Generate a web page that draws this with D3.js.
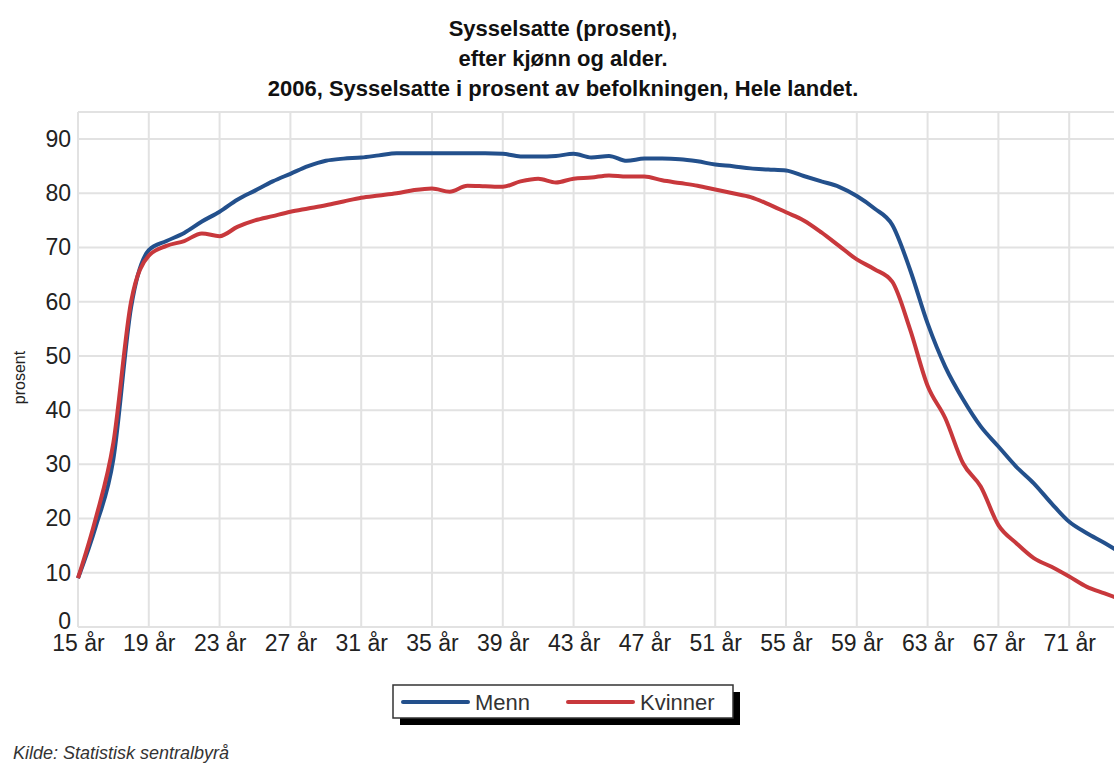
<!DOCTYPE html>
<html>
<head>
<meta charset="utf-8">
<script src="https://cdn.jsdelivr.net/npm/d3@7"></script>
<style>
  body { margin: 0; background: #fff; }
  text { font-family: "Liberation Sans", Arial, sans-serif; }
</style>
</head>
<body>
<div id="chart"></div>
<script>
const ages = d3.range(15, 75);

const menn = [9, 18.5, 31, 59, 69.5, 71.2, 72.7, 74.8, 76.6, 78.8,
    80.5, 82.2, 83.6, 85, 86, 86.4, 86.6, 87, 87.4, 87.4,
    87.4, 87.4, 87.4, 87.4, 87.3, 86.8, 86.8, 86.9, 87.3, 86.6,
    86.9, 86, 86.4, 86.4, 86.3, 85.9, 85.3, 85, 84.6, 84.4,
    84.2, 83.2, 82.2, 81.2, 79.5, 77.2, 74.2, 66, 56, 48,
    42, 37, 33.3, 29.6, 26.5, 22.8, 19.4, 17.3, 15.5, 13.5];

const kvinner = [9, 20, 34, 60, 68.5, 70.3, 71.2, 72.6, 72.1, 73.8,
    75, 75.8, 76.6, 77.2, 77.8, 78.5, 79.2, 79.6, 80, 80.6,
    80.9, 80.3, 81.4, 81.3, 81.2, 82.2, 82.7, 82, 82.7, 82.9,
    83.3, 83.1, 83.1, 82.4, 81.9, 81.4, 80.7, 80, 79.3, 78,
    76.5, 75, 72.8, 70.3, 67.8, 66, 63.7, 55, 44.5, 38.5,
    30.2, 25.9, 18.8, 15.5, 12.7, 11.1, 9.3, 7.4, 6.2, 5];

const series = [
    { name: "Menn", values: menn, color: "#23508c" },
    { name: "Kvinner", values: kvinner, color: "#c8383c" }
];

const yTicks = [0, 10, 20, 30, 40, 50, 60, 70, 80, 90];
const xTicks = [15, 19, 23, 27, 31, 35, 39, 43, 47, 51, 55, 59, 63, 67, 71];

const titleLines = [
    "Sysselsatte (prosent),",
    "efter kjønn og alder.",
    "2006, Sysselsatte i prosent av befolkningen, Hele landet."
];

const W = 1114, H = 765;
const margin = { top: 112, left: 78, bottom: 627 };

const svg = d3.select("#chart")
    .append("svg")
    .attr("width", W)
    .attr("height", H);

const x = d3.scaleLinear()
    .domain([15, 74])
    .range([margin.left, margin.left + 59 * 17.7]);

const y = d3.scaleLinear()
    .domain([0, 95])
    .range([margin.bottom, margin.top]);

// title
svg.append("g")
    .selectAll("text")
    .data(titleLines)
    .join("text")
    .attr("x", 563)
    .attr("y", (d, i) => 36 + i * 30)
    .attr("text-anchor", "middle")
    .attr("font-weight", "bold")
    .attr("font-size", "22px")
    .attr("fill", "#111")
    .text(d => d);

// grid
const grid = svg.append("g").attr("stroke", "#e2e2e2").attr("stroke-width", 2);

grid.selectAll(".h")
    .data(yTicks.concat([95]))
    .join("line")
    .attr("x1", margin.left)
    .attr("x2", W)
    .attr("y1", d => y(d))
    .attr("y2", d => y(d));

grid.selectAll(".v")
    .data(xTicks)
    .join("line")
    .attr("x1", d => x(d))
    .attr("x2", d => x(d))
    .attr("y1", y(95))
    .attr("y2", y(0));

// y axis
const yAxis = svg.append("g")
    .attr("transform", `translate(${margin.left},0)`)
    .call(d3.axisLeft(y).tickValues(yTicks).tickSize(0).tickPadding(7));
yAxis.select(".domain").remove();
yAxis.selectAll("text")
    .attr("font-size", "23px")
    .attr("font-family", "Liberation Sans, Arial, sans-serif")
    .attr("fill", "#222");
// lift the "0" a little so it sits just above the age labels
yAxis.selectAll(".tick").filter(d => d === 0).select("text").attr("dy", "0.05em");

svg.append("text")
    .attr("transform", `translate(25, ${(margin.top + margin.bottom) / 2 + 8}) rotate(-90)`)
    .attr("text-anchor", "middle")
    .attr("font-size", "16px")
    .attr("fill", "#222")
    .text("prosent");

// x axis
const xAxis = svg.append("g")
    .attr("transform", `translate(0,${margin.bottom})`)
    .call(d3.axisBottom(x).tickValues(xTicks).tickSize(0).tickPadding(8)
        .tickFormat(d => d + " år"));
xAxis.select(".domain").remove();
xAxis.selectAll("text")
    .attr("font-size", "23px")
    .attr("font-family", "Liberation Sans, Arial, sans-serif")
    .attr("fill", "#222");

// lines
const line = d3.line()
    .x((d, i) => x(ages[i]))
    .y(d => y(d))
    .curve(d3.curveMonotoneX);

svg.append("g")
    .selectAll("path")
    .data(series)
    .join("path")
    .attr("fill", "none")
    .attr("stroke", d => d.color)
    .attr("stroke-width", 4)
    .attr("stroke-linejoin", "round")
    .attr("d", d => line(d.values));

// legend
const legend = svg.append("g").attr("transform", "translate(393,685)");
legend.append("rect")
    .attr("x", 7).attr("y", 7)
    .attr("width", 340).attr("height", 33)
    .attr("fill", "#000");
legend.append("rect")
    .attr("width", 340).attr("height", 33)
    .attr("fill", "#fff")
    .attr("stroke", "#333")
    .attr("stroke-width", 1.5);

const items = legend.selectAll(".item")
    .data(series)
    .join("g")
    .attr("transform", (d, i) => `translate(${10 + i * 165},0)`);
items.append("line")
    .attr("x1", 0).attr("x2", 65)
    .attr("y1", 17).attr("y2", 17)
    .attr("stroke", d => d.color)
    .attr("stroke-width", 4)
    .attr("stroke-linecap", "round");
items.append("text")
    .attr("x", 72)
    .attr("y", 25)
    .attr("font-size", "22px")
    .attr("fill", "#333")
    .text(d => d.name);

// source
svg.append("text")
    .attr("x", 13)
    .attr("y", 759)
    .attr("font-size", "18px")
    .attr("font-style", "italic")
    .attr("fill", "#333")
    .text("Kilde: Statistisk sentralbyrå");
</script>
</body>
</html>
